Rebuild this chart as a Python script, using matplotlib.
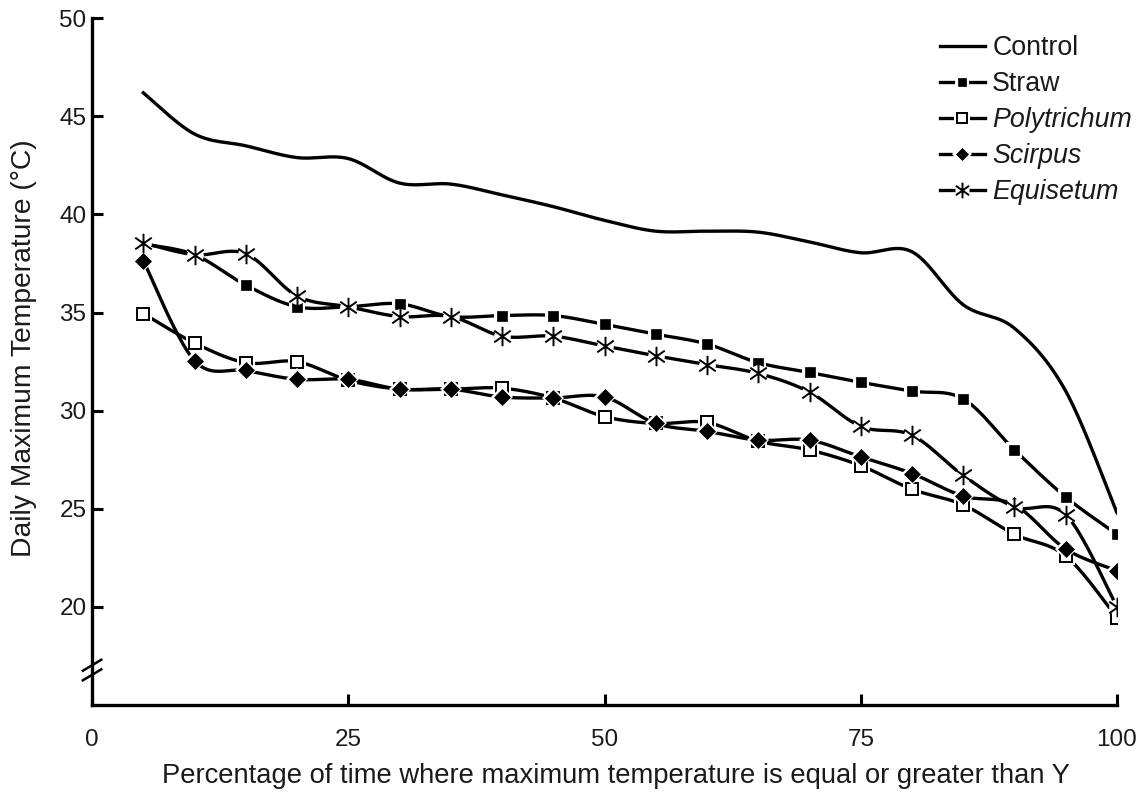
import numpy as np
import matplotlib
matplotlib.use("Agg")
import matplotlib.pyplot as plt
from matplotlib.path import Path
from matplotlib.lines import Line2D
from matplotlib.legend_handler import HandlerTuple

plt.rcParams['font.family'] = ['Liberation Sans', 'DejaVu Sans']

x = [5, 10, 15, 20, 25, 30, 35, 40, 45, 50, 55, 60, 65, 70, 75, 80, 85, 90, 95, 100]
control = [46.2, 44.1, 43.5, 42.9, 42.85, 41.6, 41.55, 41.0, 40.4, 39.7, 39.15, 39.15,
           39.1, 38.6, 38.05, 38.1, 35.4, 34.2, 31.0, 24.8]
straw = [38.5, 37.95, 36.4, 35.3, 35.3, 35.45, 34.8, 34.85, 34.85, 34.4, 33.9, 33.4,
         32.45, 31.95, 31.45, 31.0, 30.6, 28.0, 25.6, 23.7]
polytrichum = [34.95, 33.45, 32.45, 32.5, 31.55, 31.1, 31.1, 31.15, 30.65, 29.7, 29.35, 29.4,
               28.45, 28.0, 27.2, 26.0, 25.2, 23.7, 22.6, 19.45]
scirpus = [37.65, 32.55, 32.05, 31.6, 31.6, 31.1, 31.1, 30.7, 30.65, 30.7, 29.35, 28.95,
           28.5, 28.5, 27.65, 26.8, 25.65, 25.2, 22.95, 21.85]
equisetum = [38.55, 37.95, 38.0, 35.85, 35.3, 34.8, 34.8, 33.8, 33.8, 33.3, 32.8, 32.35,
             31.9, 30.95, 29.2, 28.75, 26.7, 25.1, 24.7, 20.0]

labels = ['Control', 'Straw', 'Polytrichum', 'Scirpus', 'Equisetum']
xticks = [0, 25, 50, 75, 100]
yticks = [20, 25, 30, 35, 40, 45, 50]


def smooth(xs, ys, n=24):
    pts = np.column_stack([xs, ys]).astype(float)
    outx, outy = [], []
    m = len(pts)
    for i in range(m - 1):
        p0 = pts[i - 1] if i > 0 else pts[i]
        p1 = pts[i]
        p2 = pts[i + 1]
        p3 = pts[i + 2] if i + 2 < m else pts[i + 1]
        c1 = p1 + (p2 - p0) / 6.0
        c2 = p2 - (p3 - p1) / 6.0
        t = np.linspace(0, 1, n, endpoint=(i == m - 2))[:, None]
        b = ((1 - t) ** 3) * p1 + 3 * ((1 - t) ** 2) * t * c1 + 3 * (1 - t) * t ** 2 * c2 + t ** 3 * p2
        outx.extend(b[:, 0])
        outy.extend(b[:, 1])
    return np.array(outx), np.array(outy)


star = Path([(0, -1), (0, 1), (-0.85, -0.6), (0.85, 0.6), (-0.85, 0.6), (0.85, -0.6)],
            [Path.MOVETO, Path.LINETO, Path.MOVETO, Path.LINETO, Path.MOVETO, Path.LINETO])

fig = plt.figure(figsize=(11.42, 7.94), dpi=100)
ax = fig.add_axes([0.0806, 0.112, 0.8975, 0.865])

LW = 2.4
TXT = '#1a1a1a'
handles = []

sx, sy = smooth(x, control)
ax.plot(sx, sy, color='black', lw=LW, zorder=2)
handles.append(Line2D([], [], color='black', lw=LW))

specs = [
    (straw, dict(marker='s', ms=7.8, mfc='black', mec='black', mew=0.5), 's', 11.5),
    (polytrichum, dict(marker='s', ms=9.2, mfc='white', mec='black', mew=1.4), 's', 13),
    (scirpus, dict(marker='D', ms=8.0, mfc='black', mec='black', mew=0.5), 'D', 11.5),
    (equisetum, dict(marker=star, ms=14, mfc='none', mec='black', mew=1.4), 'o', 12),
]
z = 3
for ys, mk, halo_m, halo_s in specs:
    sx, sy = smooth(x, ys)
    ax.plot(sx, sy, color='black', lw=LW, zorder=z)
    ax.plot(x, ys, ls='none', marker=halo_m, ms=halo_s, mfc='white', mec='white', mew=0, zorder=z + 0.1)
    ax.plot(x, ys, ls='none', zorder=z + 0.2, **mk)
    h_line = Line2D([], [], color='black', lw=LW)
    h_halo = Line2D([], [], ls='none', marker=halo_m, ms=halo_s * 0.85, mfc='white', mec='white', mew=0)
    h_mk = Line2D([], [], ls='none', **{**mk, 'ms': mk['ms'] * 0.8})
    handles.append((h_line, h_halo, h_mk))
    z += 1

ax.set_xlim(0, 100)
ax.set_ylim(15, 50)
ax.set_xticks(xticks)
ax.set_yticks(yticks)
ax.tick_params(direction='in', length=8, width=2.2, labelsize=17.5, colors='black',
               labelcolor=TXT)
ax.tick_params(axis='x', pad=17)
ax.tick_params(axis='y', pad=4)
for s in ['top', 'right']:
    ax.spines[s].set_visible(False)
for s in ['left', 'bottom']:
    ax.spines[s].set_linewidth(2.4)
ax.set_xlabel('Percentage of time where maximum temperature is equal or greater than Y',
              fontsize=19.7, color=TXT)
ax.set_ylabel('Daily Maximum Temperature (°C)', fontsize=20.3, color=TXT)
ax.xaxis.set_label_coords(0.511, -0.085)
ax.yaxis.set_label_coords(-0.054, 0.52)

# axis break marks
for dy in (0.0, 0.014):
    ax.plot([-0.009, 0.009], [0.036 + dy, 0.052 + dy], transform=ax.transAxes,
            color='black', lw=1.8, clip_on=False, zorder=10)

leg = ax.legend(handles, labels, loc='upper left', bbox_to_anchor=(0.827, 0.975),
                frameon=False, fontsize=19.3, handlelength=1.7, handletextpad=0.26,
                labelspacing=0.37, borderaxespad=0, borderpad=0,
                handler_map={tuple: HandlerTuple(ndivide=1, pad=0)})
for i, t in enumerate(leg.get_texts()):
    t.set_color(TXT)
    if i >= 2:
        t.set_fontstyle('italic')

fig.savefig('out.png', dpi=100)
